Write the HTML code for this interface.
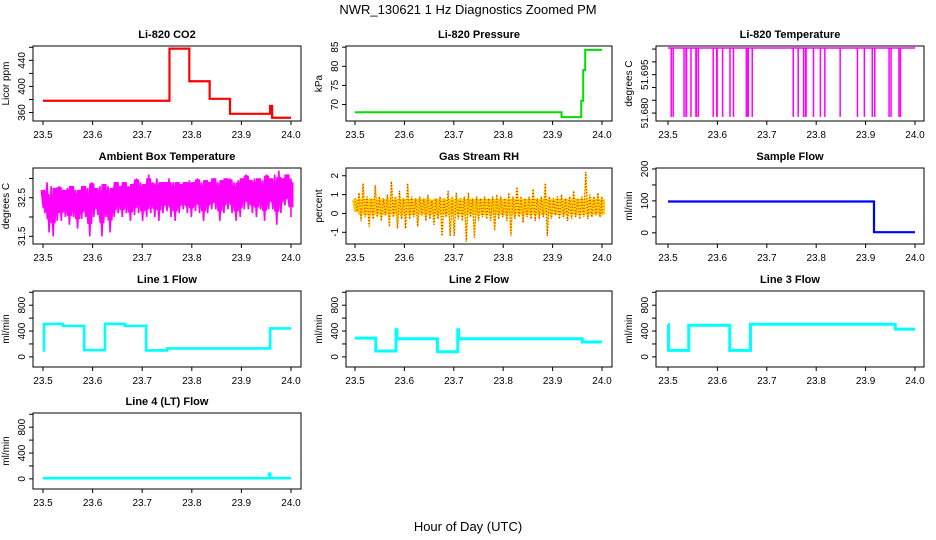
<!DOCTYPE html>
<html><head><meta charset="utf-8"><style>
html,body{margin:0;padding:0;background:#fff;}
svg{display:block;font-family:"Liberation Sans",Arial,sans-serif;}
</style></head><body>
<svg id="fig" width="936" height="540" viewBox="0 0 936 540">
<text x="468" y="14" text-anchor="middle" font-size="13">NWR_130621  1 Hz Diagnostics Zoomed PM</text>
<text x="468" y="531" text-anchor="middle" font-size="13">Hour of Day (UTC)</text>
</svg>
<script>
// ---- data ----
const xTicks = [23.5, 23.6, 23.7, 23.8, 23.9, 24.0];
const xTickLabels = ["23.5", "23.6", "23.7", "23.8", "23.9", "24.0"];

const co2Times = [23.5, 23.755, 23.795, 23.836, 23.877, 23.958, 23.962, 24.0];
const co2Values = [378, 458, 408, 381, 358, 370, 352, 352];

const pressTimes = [23.5, 23.918, 23.958, 23.962, 23.966, 24.0];
const pressValues = [68, 66.7, 71, 79, 84.3, 84.3];

const tempBase = 51.7054;
const tempLow = 51.6785;
const tempDropStarts = [23.505, 23.509, 23.531, 23.535, 23.545, 23.555, 23.56, 23.59, 23.597, 23.609, 23.624, 23.631, 23.657, 23.66, 23.669, 23.752, 23.762, 23.773, 23.777, 23.793, 23.807, 23.816, 23.847, 23.882, 23.896, 23.912, 23.917, 23.946, 23.95, 23.966, 23.969];
const tempDropWidths = [0.003, 0.003, 0.002, 0.004, 0.001, 0.004, 0.003, 0.003, 0.004, 0.002, 0.001, 0.002, 0.003, 0.004, 0.002, 0.002, 0.003, 0.003, 0.004, 0.002, 0.002, 0.002, 0.002, 0.001, 0.002, 0.002, 0.002, 0.003, 0.002, 0.002, 0.002];

const ambHigh = [32.7,32.9,32.8,32.75,32.8,32.7,32.75,32.8,32.7,32.7,32.8,32.75,32.9,32.75,32.8,32.85,32.8,32.75,32.9,32.8,32.9,32.8,32.85,33.0,32.9,32.85,33.1,32.9,33.0,32.9,32.9,33.0,32.9,32.9,32.85,32.9,32.95,32.9,33.0,32.9,32.95,32.9,33.0,32.9,32.95,33.0,33.0,32.9,32.95,33.0,33.1,32.95,33.0,33.0,32.95,33.1,33.0,33.1,33.2,33.0,33.1,33.0];
const ambLow = [32.1,31.6,31.5,31.9,31.9,32.0,31.8,32.0,31.7,31.95,32.0,31.5,32.0,32.05,31.5,32.0,31.6,32.0,32.1,32.0,32.1,31.9,32.05,32.1,31.9,32.0,32.1,32.0,31.9,32.1,32.15,32.0,31.9,32.1,32.2,32.1,32.0,32.15,32.1,31.9,32.1,32.2,32.2,31.9,32.1,32.2,32.1,31.9,32.0,32.2,32.2,32.1,32.0,32.2,31.9,32.2,32.2,31.8,32.1,32.3,32.3,32.0];

const rhHigh = [0.8,1.1,1.6,0.9,0.8,1.5,0.9,0.8,1.0,1.7,0.9,1.2,0.8,1.6,0.9,0.8,0.9,0.8,1.0,0.7,0.8,0.9,0.8,1.2,0.9,1.1,0.8,0.9,1.1,0.8,0.9,0.8,0.9,0.8,0.9,1.0,0.9,0.8,1.1,0.9,1.4,0.9,0.8,0.9,1.3,0.8,0.9,1.6,0.9,0.8,0.9,1.0,0.8,0.9,1.2,0.8,0.9,2.2,1.0,0.9,1.1,0.9];
const rhLow = [0.1,-0.4,-0.2,-0.7,-0.3,-0.2,-0.4,-0.1,-0.7,-0.2,-0.8,-0.3,-0.8,-0.3,-0.2,-0.7,-0.1,-0.4,-0.3,-0.6,-0.3,-1.2,-0.2,-1.2,-1.2,-0.3,-0.4,-1.5,-0.2,-1.3,-0.4,-0.2,-0.3,-0.4,-0.9,-0.3,-0.2,-0.4,-1.2,-0.3,-0.2,-0.5,-0.2,-0.3,-0.4,-0.3,-0.2,-1.2,-0.3,-0.1,-0.3,-0.2,-0.4,-0.3,-0.2,-0.3,-0.2,-0.3,-0.2,-0.1,-0.2,-0.1];

const sfTimes = [23.5, 23.917, 24.0];
const sfValues = [98, 2, 2];

const l1Times = [23.5, 23.502, 23.54, 23.583, 23.625, 23.665, 23.708, 23.75, 23.958, 24.0];
const l1Values = [100, 510, 480, 105, 510, 480, 100, 130, 440, 440];

const l2Times = [23.5, 23.542, 23.583, 23.585, 23.667, 23.708, 23.71, 23.96, 24.0];
const l2Values = [290, 90, 420, 280, 80, 420, 280, 230, 230];

const l3Times = [23.5, 23.501, 23.542, 23.625, 23.667, 23.96, 24.0];
const l3Values = [500, 100, 490, 100, 505, 430, 430];

const l4Times = [23.5, 23.956, 23.958, 24.0];
const l4Values = [10, 80, 10, 10];

// ---- layout ----
const NS = "http://www.w3.org/2000/svg";
const svg = document.getElementById("fig");
const colBox = [[33,301],[346,612],[656,924]];
const colTick = [[43,291],[355,602],[668,915]];
const rowBox = [[46,121],[168,244],[291,367],[413,489]];

function mk(tag, attrs, parent) {
  const e = document.createElementNS(NS, tag);
  for (const k in attrs) e.setAttribute(k, attrs[k]);
  (parent || svg).appendChild(e);
  return e;
}

function panel(col, row, name, title, ylab, ymin, ymax, ticks, labels) {
  const [bx0, bx1] = colBox[col];
  const [by0, by1] = rowBox[row];
  const [tx0, tx1] = colTick[col];
  const g = mk("g", {});
  
  
  const xs = t => tx0 + (t - 23.5) / 0.5 * (tx1 - tx0);
  const ys = v => by1 - (v - ymin) / (ymax - ymin) * (by1 - by0);
  const t = mk("text", {x: (bx0 + bx1) / 2, y: by0 - 8, "text-anchor": "middle", "font-size": "11", "font-weight": "bold"}, g);
  t.textContent = title;
  
  
  const yl = mk("text", {x: 0, y: 0, transform: `translate(${bx0 - 24},${(by0 + by1) / 2}) rotate(-90)`, "text-anchor": "middle", "font-size": "10"}, g);
  yl.textContent = ylab;
  
  
  const xa = mk("g", {}, g);
  
  
  mk("line", {x1: xs(23.5), x2: xs(24.0), y1: by1, y2: by1, stroke: "#000"}, xa);
  xTicks.forEach((v, i) => {
    mk("line", {x1: xs(v), x2: xs(v), y1: by1, y2: by1 + 4, stroke: "#000"}, xa);
    const l = mk("text", {x: xs(v), y: by1 + 17, "text-anchor": "middle", "font-size": "10"}, xa);
    l.textContent = xTickLabels[i];
    
    
  });
  const ya = mk("g", {}, g);
  
  
  ticks.forEach((v, i) => {
    mk("line", {x1: bx0 - 4, x2: bx0, y1: ys(v), y2: ys(v), stroke: "#000"}, ya);
    if (labels[i]) {
      const l = mk("text", {x: 0, y: 0, transform: `translate(${bx0 - 8},${ys(v)}) rotate(-90)`, "text-anchor": "middle", "font-size": "10"}, ya);
      l.textContent = labels[i];
      
      
    }
  });
  const clip = "c" + name;
  const cp = mk("clipPath", {id: clip}, g);
  mk("rect", {x: bx0, y: by0, width: bx1 - bx0, height: by1 - by0}, cp);
  const plot = mk("g", {"clip-path": `url(#${clip})`}, g);
  
  
  const box = mk("rect", {x: bx0, y: by0, width: bx1 - bx0, height: by1 - by0, fill: "none", stroke: "#000"}, g);
  
  
  return {xs, ys, plot};
}

function stepPath(p, times, vals) {
  let d = `M${p.xs(times[0])},${p.ys(vals[0])}`;
  for (let i = 1; i < times.length; i++) {
    d += `H${p.xs(times[i])}V${p.ys(vals[i])}`;
  }
  return d;
}
function bandPath(p, hi, lo) {
  const n = hi.length;
  let d = "";
  for (let i = 0; i < n; i++) {
    const x = p.xs(23.5 + 0.5 * i / (n - 1));
    const xm = p.xs(23.5 + 0.5 * (i + 0.5) / (n - 1));
    d += (i ? "L" : "M") + x + "," + p.ys(hi[i]) + "L" + Math.min(xm, p.xs(24)) + "," + p.ys(lo[i]);
  }
  return d;
}
function line(p, d, color, w, name, extra) {
  const e = mk("path", Object.assign({d: d, fill: "none", stroke: color, "stroke-width": w}, extra || {}), p.plot);
  
  
  return e;
}

// CO2
let p = panel(0, 0, "co2", "Li-820 CO2", "Licor ppm", 347, 462, [360,380,400,420,440,460], ["360","","400","","440",""]);
line(p, stepPath(p, co2Times, co2Values), "#ff0000", 2.2, "co2-series");

// Pressure
p = panel(1, 0, "pressure", "Li-820 Pressure", "kPa", 65.7, 85.3, [70,75,80,85], ["70","75","80","85"]);
line(p, stepPath(p, pressTimes, pressValues), "#00dd00", 2, "pressure-series");

// Temperature
p = panel(2, 0, "li820-temp", "Li-820 Temperature", "degrees C", 51.6769, 51.7062, [51.680,51.685,51.690,51.695,51.700,51.705], ["51.680","","","51.695","",""]);
line(p, `M${p.xs(23.5)},${p.ys(tempBase)}H${p.xs(24.0)}`, "#ff00ff", 1.5, "li820-temp-baseline");
tempDropStarts.forEach((t, i) => {
  const r = mk("rect", {x: p.xs(t), y: p.ys(tempBase), width: Math.max(1.5, p.xs(t + tempDropWidths[i]) - p.xs(t)), height: p.ys(tempLow) - p.ys(tempBase), fill: "#ff00ff"}, p.plot);
  
  
});

// Ambient
p = panel(0, 1, "ambient", "Ambient Box Temperature", "degrees C", 31.3, 33.27, [31.5,32.0,32.5,33.0], ["31.5","","32.5",""]);
const ambMid = ambHigh.map((h, i) => (h * 0.3 + ambLow[i] * 0.7 + 0.25));
const ambCore = ambHigh.map((h, i) => Math.min(h, ambMid[i] + 0.35));
const band = mk("path", {d: bandPath(p, ambCore, ambMid.map(v => v - 0.3)), fill: "none", stroke: "#ff00ff", "stroke-width": 5}, p.plot);


line(p, bandPath(p, ambHigh, ambLow), "#ff00ff", 1.6, "ambient-series");

// RH
p = panel(1, 1, "rh", "Gas Stream RH", "percent", -1.62, 2.41, [-1,0,1,2], ["-1","0","1","2"]);
const rhCore = mk("path", {d: bandPath(p, rhHigh.map(v => Math.min(v, 0.75)), rhLow.map(v => Math.max(v, -0.05))), fill: "none", stroke: "#ffcc00", "stroke-width": 6}, p.plot);


line(p, bandPath(p, rhHigh, rhLow), "#ffdd00", 1.4, "rh-series");
line(p, bandPath(p, rhHigh, rhLow), "#ee2200", 1.2, "rh-series-dots", {"stroke-dasharray": "1,2"});

// Sample flow
p = panel(2, 1, "sample-flow", "Sample Flow", "ml/min", -35, 203, [0,50,100,150,200], ["0","","100","","200"]);
line(p, stepPath(p, sfTimes, sfValues), "#0000ff", 2.2, "sample-flow-series");

const flowTicks = [0,200,400,600,800,1000];
const flowLabels = ["0","","400","","800",""];
p = panel(0, 2, "line1-flow", "Line 1 Flow", "ml/min", -157, 1020, flowTicks, flowLabels);
line(p, stepPath(p, l1Times, l1Values), "#00ffff", 2.6, "line1-flow-series");
p = panel(1, 2, "line2-flow", "Line 2 Flow", "ml/min", -157, 1020, flowTicks, flowLabels);
line(p, stepPath(p, l2Times, l2Values), "#00ffff", 3, "line2-flow-series");
p = panel(2, 2, "line3-flow", "Line 3 Flow", "ml/min", -157, 1020, flowTicks, flowLabels);
line(p, stepPath(p, l3Times, l3Values), "#00ffff", 3, "line3-flow-series");
p = panel(0, 3, "line4-flow", "Line 4 (LT) Flow", "ml/min", -157, 1020, flowTicks, flowLabels);
line(p, stepPath(p, l4Times, l4Values), "#00ffff", 2.6, "line4-flow-series");
</script>
</body></html>
